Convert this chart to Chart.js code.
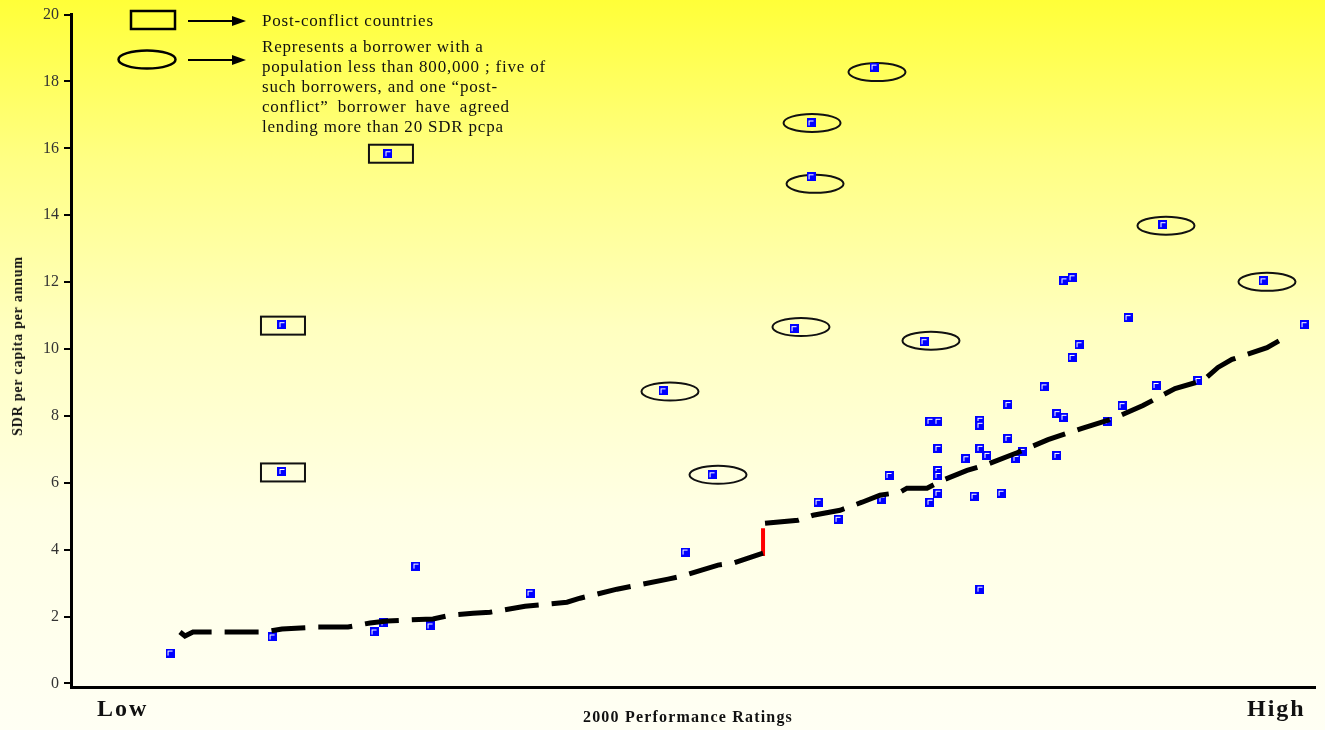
<!DOCTYPE html>
<html>
<head>
<meta charset="utf-8">
<script src="https://cdn.jsdelivr.net/npm/chart.js@4.4.1/dist/chart.umd.min.js"></script>
<style>
  html, body { margin: 0; padding: 0; }
  body {
    width: 1325px; height: 730px; overflow: hidden;
    background: linear-gradient(to bottom, #ffff38 0%, #ffff84 22%, #ffffc0 45%, #ffffe4 70%, #fffff4 100%);
    font-family: "Liberation Serif", "Times New Roman", serif;
  }
  #wrap { position: relative; width: 1325px; height: 730px; }
  #chart { position: absolute; left: 0; top: 0; }
  .txt { position: absolute; color: #111; white-space: nowrap; }
  .legend { font-size: 17px; line-height: 20px; left: 262px; letter-spacing: 0.8px; }
  .big { font-size: 24px; line-height: 24px; font-weight: bold; letter-spacing: 2px; top: 696px; }
</style>
</head>
<body>
<div id="wrap">
  <canvas id="chart" width="1325" height="730"></canvas>
  <div class="txt legend" style="top:10.5px">Post-conflict countries</div>
  <div class="txt legend" style="top:37px">Represents a borrower with a</div>
  <div class="txt legend" style="top:57px">population less than 800,000 ; five of</div>
  <div class="txt legend" style="top:77px">such borrowers, and one “post-</div>
  <div class="txt legend" style="top:97px; word-spacing:4px">conflict”  borrower  have  agreed</div>
  <div class="txt legend" style="top:117px">lending more than 20 SDR pcpa</div>
  <div class="txt big" style="left:97px">Low</div>
  <div class="txt big" style="left:1247px">High</div>
  <div class="txt" style="left:488px; width:400px; text-align:center; top:708.5px; font-size:16px; line-height:16px; font-weight:bold; letter-spacing:1.2px">2000 Performance Ratings</div>
  <div class="txt" style="left:17.6px; top:346px; font-size:14px; line-height:14px; font-weight:bold; letter-spacing:0.8px; transform:translate(-50%,-50%) rotate(-90deg)">SDR per capita per annum</div>
</div>
<script>
// Trend line (agreed lending by rating), broken at the jump
const curveX = [8.76, 9.16, 9.81, 15.59, 16.96, 19.86, 22.27, 24.04, 25.40, 29.10, 30.47, 32.32,
  33.68, 36.50, 39.87, 40.92, 43.89, 45.10, 47.99, 49.12, 52.01, 53.22, 55.63, 55.70,
  55.79, 58.44, 59.65, 61.82, 63.59, 65.03, 66.64, 67.20, 68.81, 70.02, 72.03, 73.63,
  76.05, 78.54, 81.27, 83.76, 86.17, 88.75, 91.00, 92.20, 93.33, 96.14, 97.99];
const curveY = [1.54, 1.42, 1.54, 1.54, 1.63, 1.69, 1.69, 1.81, 1.87, 1.93, 2.04, 2.10,
  2.13, 2.31, 2.43, 2.55, 2.82, 2.91, 3.12, 3.21, 3.54, 3.60, 3.90, null,
  4.79, 4.88, 5.03, 5.18, 5.42, 5.63, 5.72, 5.84, 5.84, 6.07, 6.37, 6.55,
  6.90, 7.29, 7.63, 7.92, 8.31, 8.82, 9.06, 9.45, 9.69, 10.04, 10.43];

// Red step at the jump
const stepX = [55.63, 55.63];
const stepY = [3.81, 4.64];

// Borrowers: performance rating and SDR per capita per annum
const ratingX = [7.96, 16.16, 16.96, 16.96, 25.48, 24.36, 25.16, 27.73, 28.86, 36.90,
  47.59, 49.36, 51.53, 58.12, 59.49, 59.49, 60.05, 61.66, 64.55, 65.19,
  65.76, 68.57, 69.05, 69.69, 69.69, 69.69, 69.69, 69.69, 69.05, 71.94,
  72.59, 73.07, 73.07, 73.07, 73.07, 73.63, 74.76, 75.32, 75.32, 75.96,
  76.45, 78.22, 79.26, 79.82, 79.26, 79.82, 80.47, 80.47, 81.03, 83.36,
  84.49, 84.97, 87.22, 87.78, 90.59, 95.82, 99.12];
const lendingY = [0.91, 1.39, 6.34, 10.73, 15.84, 1.54, 1.81, 3.51, 1.72, 2.70,
  8.75, 3.93, 6.24, 10.61, 16.76, 15.15, 5.42, 4.91, 18.43, 5.51,
  6.22, 10.22, 7.84, 7.84, 7.03, 6.37, 6.22, 5.69, 5.42, 6.72,
  5.60, 7.87, 7.72, 7.03, 2.82, 6.82, 5.69, 8.34, 7.33, 6.73,
  6.94, 8.87, 8.07, 7.96, 6.82, 12.04, 12.13, 9.75, 10.13, 7.84,
  8.31, 10.94, 8.91, 13.72, 9.06, 12.04, 10.73];

// Small borrowers (ellipses) and post-conflict countries (boxes)
const smallX = [48.15, 52.01, 58.68, 59.57, 59.81, 64.79, 69.13, 88.02, 96.14];
const smallY = [8.73, 6.24, 10.66, 16.76, 14.94, 18.28, 10.25, 13.69, 12.01];
const conflictX = [25.72, 17.04, 17.04];
const conflictY = [15.84, 10.70, 6.31];

function makeMarker() {
  const c = document.createElement('canvas');
  c.width = 9; c.height = 9;
  const g = c.getContext('2d');
  g.fillStyle = '#0000ff';
  g.fillRect(0, 0, 9, 9);
  g.fillStyle = '#ffffff';
  g.fillRect(2, 2, 5, 1);
  g.fillRect(2, 2, 1, 5);
  return c;
}

function arrow(ctx, x1, x2, y) {
  ctx.beginPath();
  ctx.moveTo(x1, y);
  ctx.lineTo(x2 - 12, y);
  ctx.stroke();
  ctx.beginPath();
  ctx.moveTo(x2 - 14, y - 5);
  ctx.lineTo(x2, y);
  ctx.lineTo(x2 - 14, y + 5);
  ctx.closePath();
  ctx.fill();
}

const shapes = {
  id: 'shapes',
  beforeDatasetsDraw(chart) {
    const { ctx, scales: { x, y } } = chart;
    ctx.save();
    ctx.strokeStyle = '#111';
    ctx.lineWidth = 2;
    smallX.forEach((v, i) => {
      ctx.beginPath();
      ctx.ellipse(x.getPixelForValue(v), y.getPixelForValue(smallY[i]), 28.5, 9, 0, 0, Math.PI * 2);
      ctx.stroke();
    });
    conflictX.forEach((v, i) => {
      ctx.strokeRect(x.getPixelForValue(v) - 22, y.getPixelForValue(conflictY[i]) - 9, 44, 18);
    });
    ctx.restore();
  },
  afterDraw(chart) {
    const ctx = chart.ctx;
    ctx.save();
    ctx.strokeStyle = '#000';
    ctx.fillStyle = '#000';
    ctx.lineWidth = 2.5;
    ctx.strokeRect(131, 11, 44, 18);
    ctx.beginPath();
    ctx.ellipse(147, 59.5, 28.5, 9, 0, 0, Math.PI * 2);
    ctx.stroke();
    ctx.lineWidth = 2;
    arrow(ctx, 188, 246, 21);
    arrow(ctx, 188, 246, 60);
    ctx.restore();
  }
};

new Chart(document.getElementById('chart'), {
  type: 'scatter',
  data: {
    datasets: [
      {
        type: 'line',
        data: curveX.map((v, i) => ({ x: v, y: curveY[i] })),
        borderColor: '#000',
        borderWidth: 5,
        borderDash: [34, 13],
        pointRadius: 0,
        tension: 0,
        spanGaps: false,
        order: 0
      },
      {
        type: 'line',
        data: stepX.map((v, i) => ({ x: v, y: stepY[i] })),
        borderColor: '#ff0000',
        borderWidth: 4,
        pointRadius: 0,
        order: 0
      },
      {
        data: ratingX.map((v, i) => ({ x: v, y: lendingY[i] })),
        pointStyle: makeMarker(),
        order: 1
      }
    ]
  },
  options: {
    responsive: false,
    animation: false,
    layout: { padding: { top: 13.5, right: 10, bottom: 0, left: 0 } },
    plugins: { legend: { display: false }, tooltip: { enabled: false } },
    scales: {
      x: {
        type: 'linear',
        min: 0,
        max: 100,
        ticks: { display: false },
        grid: { display: false, drawTicks: false },
        border: { color: '#000', width: 3 },
        afterFit(s) { s.height = 42.5; }
      },
      y: {
        min: -0.12,
        max: 20,
        ticks: {
          stepSize: 2,
          includeBounds: false,
          color: '#333',
          padding: 5,
          font: { family: 'Liberation Serif', size: 16 }
        },
        grid: { drawOnChartArea: false, color: '#000', lineWidth: 2, tickLength: 7 },
        border: { color: '#000', width: 3 },
        afterFit(s) { s.width = 71; }
      }
    }
  },
  plugins: [shapes]
});
</script>
</body>
</html>
